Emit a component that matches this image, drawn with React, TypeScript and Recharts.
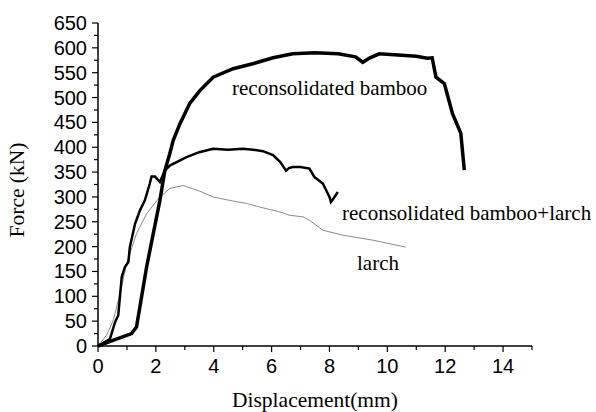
import React from 'react';
import { LineChart, Line, XAxis, YAxis } from 'recharts';

const bambooX = [0, 0.4, 1.16, 1.33, 1.68, 1.91, 2.14, 2.31, 2.48, 2.6, 2.83, 3.17, 3.52, 3.98, 4.67, 5.35, 6.05, 6.73, 7.5, 8.3, 8.9, 9.15, 9.4, 9.72, 10.5, 11.0, 11.38, 11.55, 11.68, 11.97, 12.25, 12.54, 12.66];
const bambooY = [0, 9, 25, 38, 159, 226, 293, 353, 387, 414, 447, 488, 514, 541, 558, 568, 580, 588, 590, 588, 582, 571, 580, 588, 585, 583, 579, 580, 541, 528, 468, 428, 354];

const compositeX = [0, 0.41, 0.59, 0.7, 0.82, 0.93, 1.05, 1.1, 1.28, 1.45, 1.62, 1.79, 1.85, 1.97, 2.14, 2.31, 2.48, 3.06, 3.5, 3.98, 4.5, 5.0, 5.36, 5.7, 6.05, 6.3, 6.5, 6.6, 6.73, 7.0, 7.31, 7.48, 7.77, 8.0, 8.05, 8.15, 8.29];
const compositeY = [0, 14, 48, 62, 139, 159, 169, 199, 246, 273, 293, 327, 341, 341, 330, 353, 363, 380, 390, 397, 395, 397, 395, 392, 384, 370, 353, 358, 360, 360, 357, 340, 327, 300, 290, 298, 310];

const larchX = [0, 0.3, 0.53, 0.76, 0.99, 1.33, 1.68, 2.14, 2.48, 2.94, 3.5, 3.98, 4.55, 5.13, 5.7, 6.28, 6.62, 7.08, 7.31, 7.77, 8.46, 9.49, 10.64];
const larchY = [0, 22, 52, 105, 166, 226, 266, 300, 317, 323, 312, 300, 293, 287, 278, 270, 263, 260, 253, 233, 223, 213, 199];

const xTicks = [0, 1, 2, 3, 4, 5, 6, 7, 8, 9, 10, 11, 12, 13, 14, 15];
const yTicks = [0, 25, 50, 75, 100, 125, 150, 175, 200, 225, 250, 275, 300, 325, 350, 375, 400, 425, 450, 475, 500, 525, 550, 575, 600, 625, 650];

const toPoints = (xs: number[], ys: number[]) => xs.map((x, i) => ({ x, y: ys[i] }));

const bamboo = toPoints(bambooX, bambooY);
const composite = toPoints(compositeX, compositeY);
const larch = toPoints(larchX, larchY);

const tickFont = '"Liberation Sans", Arial, sans-serif';
const serif = '"Liberation Serif", "Times New Roman", serif';

const XTick = (props: any) => {
	const { x, y, payload } = props;
	const major = payload.value % 2 === 0;
	return (
		<g>
			<line x1={x} y1={y} x2={x} y2={y + (major ? 6 : 4)} stroke="#000" strokeWidth={1.2} />
			{major && (
				<text x={x} y={y + 27} textAnchor="middle" fontFamily={tickFont} fontSize={20} fill="#000">
					{payload.value}
				</text>
			)}
		</g>
	);
};

const YTick = (props: any) => {
	const { x, y, payload } = props;
	const major = payload.value % 50 === 0;
	return (
		<g>
			<line x1={x - (major ? 6 : 4)} y1={y} x2={x} y2={y} stroke="#000" strokeWidth={1.2} />
			{major && (
				<text x={x - 11} y={y + 7} textAnchor="end" fontFamily={tickFont} fontSize={20} fill="#000">
					{payload.value}
				</text>
			)}
		</g>
	);
};

const textStyle: React.CSSProperties = {
	position: 'absolute',
	fontFamily: serif,
	fontSize: 21,
	color: '#000',
	whiteSpace: 'nowrap',
	lineHeight: 1,
};

export default function App() {
	return (
		<div style={{ position: 'absolute', left: 0, top: 0, width: 596, height: 412, background: '#fff' }}>
			<LineChart width={596} height={412} margin={{ top: 23, right: 64, bottom: 36, left: 0 }}>
				<XAxis
					type="number"
					dataKey="x"
					domain={[0, 15]}
					ticks={xTicks}
					interval={0}
					tick={<XTick />}
					tickLine={false}
					tickSize={0}
					tickMargin={0}
					height={30}
					axisLine={{ stroke: '#000', strokeWidth: 1.5 }}
				/>
				<YAxis
					type="number"
					dataKey="y"
					domain={[0, 650]}
					ticks={yTicks}
					interval={0}
					tick={<YTick />}
					tickLine={false}
					tickSize={0}
					tickMargin={0}
					width={98}
					axisLine={{ stroke: '#000', strokeWidth: 1.5 }}
				/>
				<Line data={larch} dataKey="y" type="linear" stroke="#8a8a8a" strokeWidth={1} dot={false} isAnimationActive={false} />
				<Line data={composite} dataKey="y" type="linear" stroke="#000" strokeWidth={2.5} dot={false} isAnimationActive={false} />
				<Line data={bamboo} dataKey="y" type="linear" stroke="#000" strokeWidth={3.5} dot={false} isAnimationActive={false} />
			</LineChart>
			<div style={{ ...textStyle, left: 232, top: 78 }}>reconsolidated bamboo</div>
			<div style={{ ...textStyle, left: 342, top: 203 }}>reconsolidated bamboo+larch</div>
			<div style={{ ...textStyle, left: 357, top: 253 }}>larch</div>
			<div style={{ ...textStyle, fontSize: 21.5, left: 232, top: 390 }}>Displacement(mm)</div>
			<div
				style={{
					...textStyle,
					fontSize: 21.5,
					left: 18,
					top: 190,
					transform: 'translate(-50%, -50%) rotate(-90deg)',
				}}
			>
				Force (kN)
			</div>
		</div>
	);
}
